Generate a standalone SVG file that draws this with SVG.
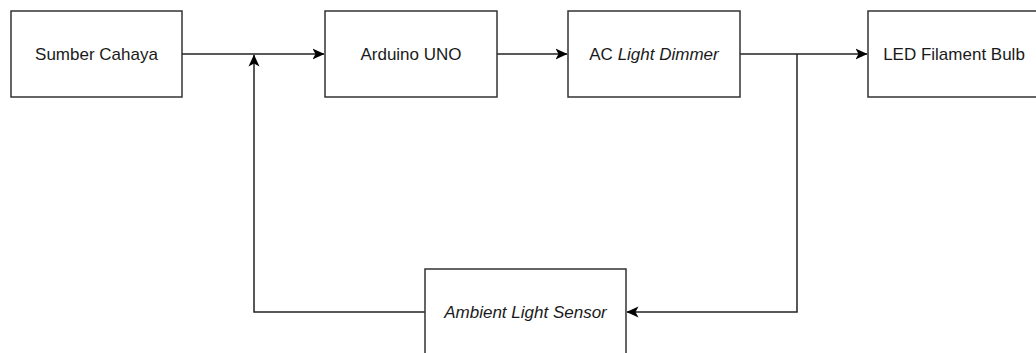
<svg xmlns="http://www.w3.org/2000/svg" width="1036" height="353" viewBox="0 0 1036 353">
<defs>
<style>
.box{fill:#fff;stroke:#333;stroke-width:1.5}
.lbl{font-family:"Liberation Sans",Arial,sans-serif;font-size:17px;fill:#1a1a1a;text-anchor:middle;dominant-baseline:central}
.it{font-style:italic}
.ln{fill:none;stroke:#222;stroke-width:1.5}
</style>
<marker id="ah" viewBox="0 0 12 12" refX="11.5" refY="6" markerWidth="12" markerHeight="12" markerUnits="userSpaceOnUse" orient="auto">
<path d="M0,0.5 L12,6 L0,11.5 L3,6 Z" fill="#000"/>
</marker>
</defs>
<rect width="1036" height="353" fill="#fff"/>
<g id="connectors">
<path class="ln" d="M182,54 H324" marker-end="url(#ah)"/>
<path class="ln" d="M497,54 H567" marker-end="url(#ah)"/>
<path class="ln" d="M740,54 H867" marker-end="url(#ah)"/>
<path class="ln" d="M797,54 V312 H627" marker-end="url(#ah)"/>
<path class="ln" d="M425,312 H254 V55" marker-end="url(#ah)"/>
</g>
<g id="sumber-cahaya">
<rect class="box" x="11" y="11" width="171" height="86"/>
<text class="lbl" x="96.5" y="54">Sumber Cahaya</text>
</g>
<g id="arduino-uno">
<rect class="box" x="325" y="11" width="172" height="86"/>
<text class="lbl" x="411" y="54">Arduino UNO</text>
</g>
<g id="ac-light-dimmer">
<rect class="box" x="568" y="11" width="172" height="86"/>
<text class="lbl" x="654" y="54">AC <tspan class="it">Light Dimmer</tspan></text>
</g>
<g id="led-filament-bulb">
<rect class="box" x="868" y="11" width="172" height="86"/>
<text class="lbl" x="954" y="54">LED Filament Bulb</text>
</g>
<g id="ambient-light-sensor">
<rect class="box" x="425" y="269" width="201" height="86"/>
<text class="lbl it" x="525.5" y="312">Ambient Light Sensor</text>
</g>
</svg>
